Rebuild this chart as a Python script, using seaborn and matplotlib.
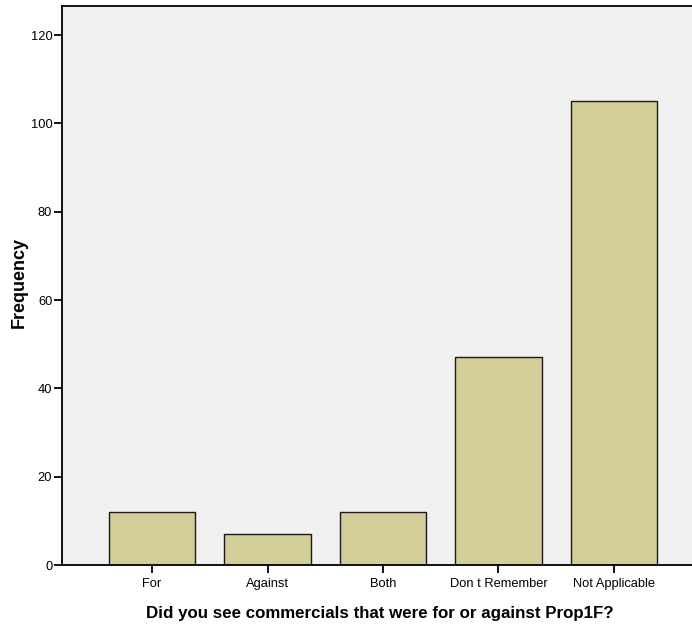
import numpy as np
import pandas as pd
import matplotlib
matplotlib.use("Agg")
import matplotlib.pyplot as plt
import seaborn as sns

categories = ["For", "Against", "Both", "Don t Remember", "Not Applicable"]
counts = [12, 7, 12, 47, 105]
y_ticks = [0, 20, 40, 60, 80, 100, 120]

df = pd.DataFrame({"answer": categories, "count": counts})

sns.set_style("white")
plt.rcParams["font.family"] = ["Liberation Sans", "DejaVu Sans"]
plt.rcParams["text.color"] = "black"

fig = plt.figure(figsize=(6.92, 6.28), dpi=100)
# plot area runs past the right edge of the picture, like the original export
ax = fig.add_axes([62 / 692, 63 / 628, 642 / 692, 559 / 628])
ax.set_facecolor("#F0F0F0")

sns.barplot(data=df, x="answer", y="count", color="#D3CE97", width=0.75,
            edgecolor="#1a1a1a", linewidth=1.0, saturation=1, ax=ax)

ax.set_xlim(-0.78, 4.78)
ax.set_ylim(0, 126.6)
ax.set_yticks(y_ticks)
ax.set_yticklabels([str(v) for v in y_ticks])

for side in ["left", "bottom", "top"]:
    ax.spines[side].set_visible(True)
    ax.spines[side].set_color("black")
    ax.spines[side].set_linewidth(1.3)
ax.spines["right"].set_visible(False)

ax.tick_params(axis="both", which="major", direction="out", length=6, width=1.3,
               color="black", labelsize=9.3, labelcolor="black", pad=1,
               bottom=True, left=True)
# align category labels on a common baseline
ax.tick_params(axis="x", pad=9.5)
for lab in ax.get_xticklabels():
    lab.set_verticalalignment("baseline")

ax.set_xlabel("Did you see commercials that were for or against Prop1F?",
              fontsize=12.2, fontweight="bold", color="black")
ax.set_ylabel("Frequency", fontsize=13, fontweight="bold", color="black")
ax.xaxis.set_label_coords((380 - 62) / 642, -0.074)
ax.yaxis.set_label_coords((28 - 62) / 642, (565 - 283) / 559)

fig.savefig("out.png", dpi=100)
